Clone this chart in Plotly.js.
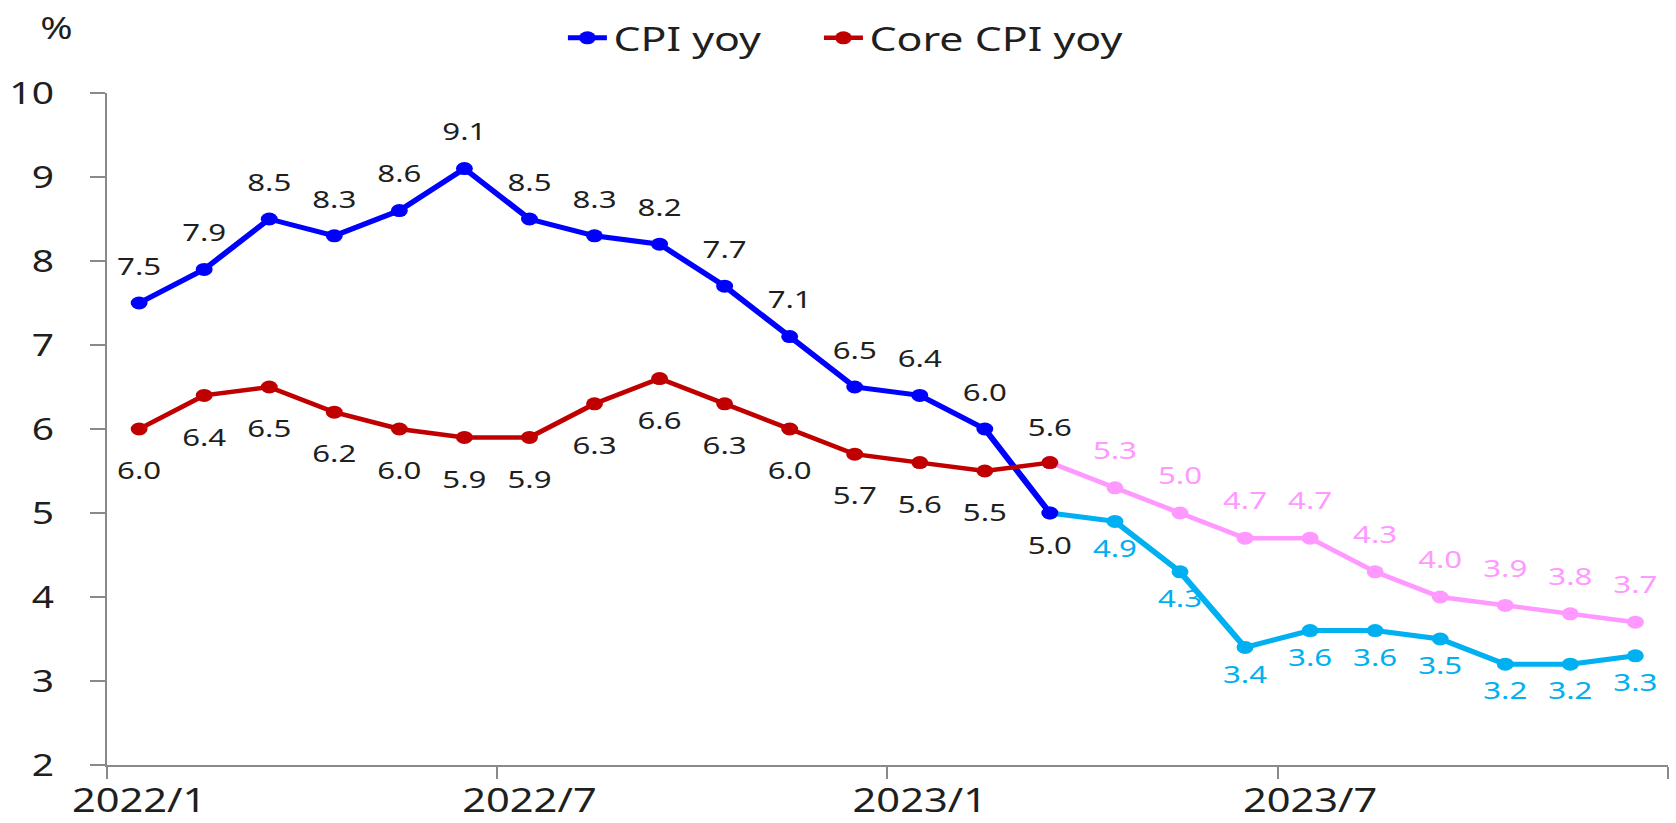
<!DOCTYPE html>
<html>
<head>
<meta charset="utf-8">
<script src="https://cdn.plot.ly/plotly-3.0.1.min.js"></script>
<style>
  html, body { margin: 0; padding: 0; background: #fff; overflow: hidden; }
  #chart { width: 1289px; height: 823px; transform: scaleX(1.3); transform-origin: 0 0; }
</style>
</head>
<body>
<div id="chart"></div>
<script>
// ---- data ----
const months = ['2022/1','2022/2','2022/3','2022/4','2022/5','2022/6','2022/7','2022/8','2022/9','2022/10','2022/11','2022/12',
                '2023/1','2023/2','2023/3','2023/4','2023/5','2023/6','2023/7','2023/8','2023/9','2023/10','2023/11','2023/12'];
const cpiActual    = [7.5, 7.9, 8.5, 8.3, 8.6, 9.1, 8.5, 8.3, 8.2, 7.7, 7.1, 6.5, 6.4, 6.0, 5.0];
const cpiForecast  = [5.0, 4.9, 4.3, 3.4, 3.6, 3.6, 3.5, 3.2, 3.2, 3.3];
const coreActual   = [6.0, 6.4, 6.5, 6.2, 6.0, 5.9, 5.9, 6.3, 6.6, 6.3, 6.0, 5.7, 5.6, 5.5, 5.6];
const coreForecast = [5.6, 5.3, 5.0, 4.7, 4.7, 4.3, 4.0, 3.9, 3.8, 3.7];
const xTickLabels  = ['2022/1', '2022/7', '2023/1', '2023/7'];
const seriesNames  = ['CPI yoy', 'Core CPI yoy'];

// ---- helpers ----
const idx = months.map((m, i) => i);
const actualX = idx.slice(0, cpiActual.length);
const fcStart = cpiActual.length - 1;
const forecastX = idx.slice(fcStart, fcStart + cpiForecast.length);
const fmt = v => v.toFixed(1);

const C_BLUE = '#0000FF', C_LBLUE = '#00B0F0', C_RED = '#C00000', C_PINK = '#FF99FF';
const LABEL_DARK = '#1f1f1f';
const FONT = 'Noto Sans, Open Sans, sans-serif';

function lineTrace(x, y, color, width, name, showlegend, legend) {
  return {
    x: x, y: y, type: 'scatter', mode: 'lines+markers', name: name,
    showlegend: showlegend, legend: legend || 'legend', hoverinfo: 'skip',
    line: {color: color, width: width},
    marker: {color: color, size: 13}
  };
}
function labelTrace(x, y, positions, sizes, color) {
  return {
    x: x, y: y, type: 'scatter', mode: 'markers+text', showlegend: false, hoverinfo: 'skip',
    text: y.map(fmt), textposition: positions, cliponaxis: false,
    textfont: {family: FONT, size: 24, color: color},
    marker: {size: sizes, color: 'rgba(0,0,0,0)', opacity: 0}
  };
}

const nA = cpiActual.length;
const cpiPos  = cpiActual.map((v, i) => i === nA - 1 ? 'bottom center' : 'top center');
const cpiSz   = cpiActual.map((v, i) => i === nA - 1 ? 35 : 34);
const corePos = coreActual.map((v, i) => i === nA - 1 ? 'top center' : 'bottom center');
const coreSz  = coreActual.map((v, i) => i === nA - 1 ? 32 : 50);

const data = [
  lineTrace(forecastX, cpiForecast, C_LBLUE, 5, 'CPI forecast', false),
  lineTrace(forecastX, coreForecast, C_PINK, 4.5, 'Core forecast', false),
  lineTrace(actualX, cpiActual, C_BLUE, 5, seriesNames[0], true, 'legend'),
  lineTrace(actualX, coreActual, C_RED, 4.5, seriesNames[1], true, 'legend2'),
  labelTrace(actualX, cpiActual, cpiPos, cpiSz, LABEL_DARK),
  labelTrace(actualX, coreActual, corePos, coreSz, LABEL_DARK),
  labelTrace(forecastX.slice(1), cpiForecast.slice(1), 'bottom center', 26, C_LBLUE),
  labelTrace(forecastX.slice(1), coreForecast.slice(1), 'top center', 35, C_PINK)
];

const boundaries = [];
for (let i = 0; i <= months.length; i += 6) boundaries.push(i - 0.5);

const legendBase = {
  orientation: 'h', xanchor: 'left', y: 1.082, yanchor: 'middle',
  font: {family: FONT, size: 33, color: LABEL_DARK},
  itemwidth: 30, bgcolor: 'rgba(0,0,0,0)'
};

const layout = {
  width: 1289, height: 823,
  margin: {l: 82.3, r: 6.1, t: 93, b: 58, pad: 0},
  paper_bgcolor: '#fff', plot_bgcolor: '#fff',
  font: {family: FONT, color: LABEL_DARK},
  showlegend: true,
  legend: Object.assign({}, legendBase, {x: 0.2913}),
  legend2: Object.assign({}, legendBase, {x: 0.4553}),
  xaxis: {
    range: [-0.5, months.length - 0.5], showgrid: false, zeroline: false,
    showline: true, linecolor: '#898989', linewidth: 1.5,
    tickmode: 'array', tickvals: xTickLabels.map(m => months.indexOf(m)), ticktext: xTickLabels,
    ticks: 'outside', ticklen: 12, tickcolor: 'rgba(0,0,0,0)', ticklabelstandoff: -5,
    tickfont: {family: FONT, size: 32, color: LABEL_DARK},
    minor: {tickmode: 'array', tickvals: boundaries, ticks: 'outside', ticklen: 12, tickwidth: 1.5, tickcolor: '#898989', showgrid: false},
    automargin: false, fixedrange: true
  },
  yaxis: {
    range: [2, 10], dtick: 1, showgrid: false, zeroline: false,
    showline: true, linecolor: '#898989', linewidth: 1.5,
    ticks: 'outside', ticklen: 11, tickwidth: 1.5, tickcolor: '#898989', ticklabelstandoff: 22,
    tickfont: {family: FONT, size: 30, color: LABEL_DARK},
    automargin: false, fixedrange: true
  },
  annotations: [{
    text: '%', xref: 'paper', yref: 'paper', x: -0.0318, y: 1.098, xanchor: 'center', yanchor: 'middle',
    showarrow: false, font: {family: FONT, size: 30, color: LABEL_DARK}
  }]
};

Plotly.newPlot('chart', data, layout, {staticPlot: true, displayModeBar: false});
</script>
</body>
</html>
